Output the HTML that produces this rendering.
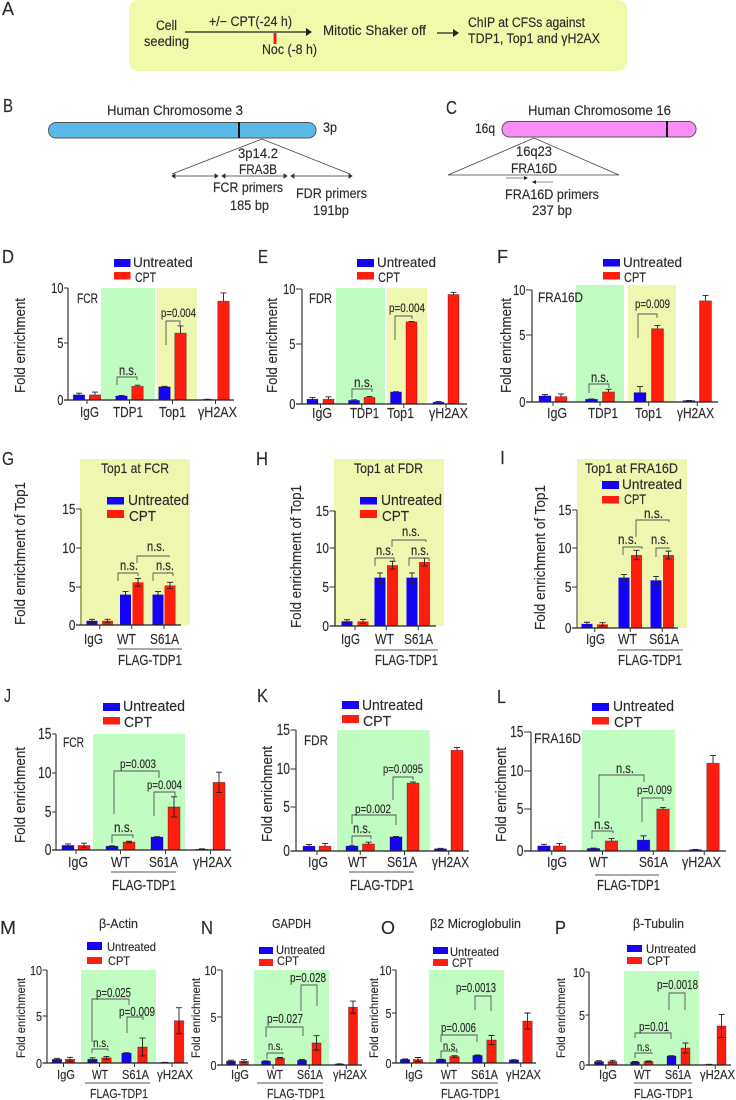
<!DOCTYPE html>
<html lang="en">
<head>
<meta charset="utf-8">
<title>ChIP enrichment at common fragile sites</title>
<style>
html,body{margin:0;padding:0;background:#fff;}
svg{display:block;}
text{font-family:"Liberation Sans",sans-serif;fill:#2b2b2b;stroke:#2b2b2b;stroke-width:0.15;}
</style>
</head>
<body>
<svg id="figure" xmlns="http://www.w3.org/2000/svg" width="736" height="1100" viewBox="0 0 736 1100">
  <g>
    <text x="2" y="15" font-size="18" textLength="12" lengthAdjust="spacingAndGlyphs">A</text>
    <rect x="129" y="0" width="498" height="71" rx="9" fill="#f1f9ab"/>
    <text x="156" y="30" font-size="13.5" textLength="21" lengthAdjust="spacingAndGlyphs">Cell</text>
    <text x="144" y="46" font-size="13.5" textLength="45" lengthAdjust="spacingAndGlyphs">seeding</text>
    <text x="209" y="26" font-size="13.5" textLength="83" lengthAdjust="spacingAndGlyphs">+/− CPT(-24 h)</text>
    <line x1="185" y1="32" x2="308" y2="32" stroke="#222" stroke-width="1.2"/>
    <polygon points="306,28 312,32 306,36" fill="#222"/>
    <rect x="273.5" y="33" width="3" height="11" fill="#ee1c25"/>
    <text x="262" y="54" font-size="13.5" textLength="55" lengthAdjust="spacingAndGlyphs">Noc (-8 h)</text>
    <text x="323" y="35" font-size="13.5" textLength="103" lengthAdjust="spacingAndGlyphs">Mitotic Shaker off</text>
    <line x1="437" y1="33" x2="456" y2="33" stroke="#222" stroke-width="1.2"/>
    <polygon points="453,29 459,33 453,37" fill="#222"/>
    <text x="468" y="27" font-size="13.5" textLength="117" lengthAdjust="spacingAndGlyphs">ChIP at CFSs against</text>
    <text x="468" y="43" font-size="13.5" textLength="132" lengthAdjust="spacingAndGlyphs">TDP1, Top1 and γH2AX</text>
  </g>
  <g>
    <text x="3" y="112" font-size="18" textLength="10" lengthAdjust="spacingAndGlyphs">B</text>
    <text x="107" y="115" font-size="13.5" textLength="136" lengthAdjust="spacingAndGlyphs">Human Chromosome 3</text>
    <rect x="48.5" y="122.5" width="267.5" height="15.5" rx="7.5" fill="#5ab9e6" stroke="#555" stroke-width="1"/>
    <rect x="238" y="122" width="2" height="16" fill="#111"/>
    <text x="323" y="132" font-size="13.5" textLength="14" lengthAdjust="spacingAndGlyphs">3p</text>
    <polyline points="172,174 262,139 350,174" fill="none" stroke="#444" stroke-width="0.8"/>
    <text x="238" y="158" font-size="13.5" textLength="40" lengthAdjust="spacingAndGlyphs" stroke-width="0.35">3p14.2</text>
    <text x="239" y="174" font-size="13.5" textLength="38" lengthAdjust="spacingAndGlyphs" stroke-width="0.35">FRA3B</text>
    <path d="M172 176H218M172 176l3-2v4zM218 176l-3-2v4z" fill="#222" stroke="#333" stroke-width="0.8"/>
    <path d="M222 176H287M222 176l3-2v4zM287 176l-3-2v4z" fill="#222" stroke="#333" stroke-width="0.8"/>
    <path d="M291 176H352M291 176l3-2v4zM352 176l-3-2v4z" fill="#222" stroke="#333" stroke-width="0.8"/>
    <text x="213" y="192" font-size="13.5" textLength="70" lengthAdjust="spacingAndGlyphs">FCR primers</text>
    <text x="230" y="210" font-size="13.5" textLength="39" lengthAdjust="spacingAndGlyphs">185 bp</text>
    <text x="296" y="198" font-size="13.5" textLength="71" lengthAdjust="spacingAndGlyphs">FDR primers</text>
    <text x="313" y="215" font-size="13.5" textLength="36" lengthAdjust="spacingAndGlyphs">191bp</text>
  </g>
  <g>
    <text x="446" y="114" font-size="18" textLength="11" lengthAdjust="spacingAndGlyphs">C</text>
    <text x="528" y="115" font-size="13.5" textLength="143" lengthAdjust="spacingAndGlyphs">Human Chromosome 16</text>
    <rect x="502" y="121.5" width="194" height="15.5" rx="7.5" fill="#fb8dfb" stroke="#555" stroke-width="1"/>
    <rect x="666" y="121" width="2" height="16" fill="#111"/>
    <text x="475" y="133" font-size="13.5" textLength="20" lengthAdjust="spacingAndGlyphs">16q</text>
    <polygon points="448,175 534,138 619,175" fill="none" stroke="#444" stroke-width="0.8"/>
    <text x="516" y="156" font-size="13.5" textLength="36" lengthAdjust="spacingAndGlyphs" stroke-width="0.35">16q23</text>
    <text x="511" y="173" font-size="13.5" textLength="46" lengthAdjust="spacingAndGlyphs" stroke-width="0.35">FRA16D</text>
    <path d="M506 178H527" stroke="#888" stroke-width="1"/>
    <polygon points="524,176 528,178 524,180" fill="#222"/>
    <path d="M532 182H553" stroke="#666" stroke-width="0.8"/>
    <polygon points="536,180 532,182 536,184" fill="#222"/>
    <text x="505" y="199" font-size="13.5" textLength="94" lengthAdjust="spacingAndGlyphs">FRA16D primers</text>
    <text x="532" y="215" font-size="13.5" textLength="40" lengthAdjust="spacingAndGlyphs">237 bp</text>
  </g>
</svg>
<script>
// ---------- chart data ----------
const dCategories = ['IgG', 'TDP1', 'Top1', 'γH2AX'];
const dUntreated = [0.45, 0.35, 1.15, 0.05];
const dCpt = [0.45, 1.2, 5.9, 8.8];
const dUntreatedErr = [0.15, 0.05, 0.05, 0.02];
const dCptErr = [0.25, 0.1, 0.65, 0.75];
const dTicks = [0, 5, 10];

const eCategories = ['IgG', 'TDP1', 'Top1', 'γH2AX'];
const eUntreated = [0.4, 0.3, 1.0, 0.15];
const eCpt = [0.4, 0.55, 7.0, 9.5];
const eUntreatedErr = [0.15, 0.05, 0.03, 0.05];
const eCptErr = [0.2, 0.08, 0.05, 0.2];
const eTicks = [0, 5, 10];

const fCategories = ['IgG', 'TDP1', 'Top1', 'γH2AX'];
const fUntreated = [0.45, 0.2, 0.7, 0.1];
const fCpt = [0.4, 0.75, 5.7, 8.8];
const fUntreatedErr = [0.1, 0.03, 0.45, 0.02];
const fCptErr = [0.2, 0.2, 0.35, 0.6];
const fTicks = [0, 5, 10];

const gCategories = ['IgG', 'WT', 'S61A'];
const gUntreated = [0.55, 4.0, 4.0];
const gCpt = [0.55, 5.6, 5.2];
const gUntreatedErr = [0.2, 0.4, 0.4];
const gCptErr = [0.2, 0.5, 0.4];
const gTicks = [0, 5, 10, 15];

const hCategories = ['IgG', 'WT', 'S61A'];
const hUntreated = [0.6, 6.2, 6.2];
const hCpt = [0.6, 7.8, 8.2];
const hUntreatedErr = [0.2, 0.6, 0.6];
const hCptErr = [0.25, 0.5, 0.5];
const hTicks = [0, 5, 10, 15];

const iCategories = ['IgG', 'WT', 'S61A'];
const iUntreated = [0.5, 6.2, 5.85];
const iCpt = [0.45, 9.1, 9.1];
const iUntreatedErr = [0.2, 0.4, 0.5];
const iCptErr = [0.2, 0.6, 0.5];
const iTicks = [0, 5, 10, 15];

const jCategories = ['IgG', 'WT', 'S61A', 'γH2AX'];
const jUntreated = [0.6, 0.5, 1.7, 0.1];
const jCpt = [0.6, 1.05, 5.65, 8.8];
const jUntreatedErr = [0.2, 0.05, 0.05, 0.05];
const jCptErr = [0.3, 0.1, 1.3, 1.3];
const jTicks = [0, 5, 10, 15];

const kCategories = ['IgG', 'WT', 'S61A', 'γH2AX'];
const kUntreated = [0.55, 0.55, 1.6, 0.25];
const kCpt = [0.55, 0.8, 8.15, 12.4];
const kUntreatedErr = [0.2, 0.05, 0.05, 0.05];
const kCptErr = [0.3, 0.2, 0.15, 0.35];
const kTicks = [0, 5, 10, 15];

const lCategories = ['IgG', 'WT', 'S61A', 'γH2AX'];
const lUntreated = [0.6, 0.3, 1.3, 0.15];
const lCpt = [0.6, 1.2, 5.0, 11.0];
const lUntreatedErr = [0.2, 0.05, 0.5, 0.03];
const lCptErr = [0.3, 0.3, 0.2, 1.0];
const lTicks = [0, 5, 10, 15];

const mCategories = ['IgG', 'WT', 'S61A', 'γH2AX'];
const mUntreated = [0.4, 0.4, 1.05, 0.05];
const mCpt = [0.4, 0.55, 1.7, 4.5];
const mUntreatedErr = [0.1, 0.15, 0.05, 0.02];
const mCptErr = [0.2, 0.15, 0.95, 1.4];
const mTicks = [0, 5, 10];

const nCategories = ['IgG', 'WT', 'S61A', 'γH2AX'];
const nUntreated = [0.4, 0.4, 0.5, 0.1];
const nCpt = [0.4, 0.7, 2.3, 6.05];
const nUntreatedErr = [0.1, 0.03, 0.08, 0.02];
const nCptErr = [0.15, 0.08, 0.75, 0.65];
const nTicks = [0, 5, 10];

const oCategories = ['IgG', 'WT', 'S61A', 'γH2AX'];
const oUntreated = [0.35, 0.35, 0.75, 0.3];
const oCpt = [0.35, 0.65, 2.3, 4.2];
const oUntreatedErr = [0.05, 0.03, 0.05, 0.03];
const oCptErr = [0.2, 0.08, 0.45, 0.8];
const oTicks = [0, 5, 10];

const pCategories = ['IgG', 'WT', 'S61A', 'γH2AX'];
const pUntreated = [0.35, 0.3, 0.9, 0.05];
const pCpt = [0.35, 0.35, 1.7, 3.9];
const pUntreatedErr = [0.08, 0.05, 0.03, 0.02];
const pCptErr = [0.12, 0.05, 0.5, 1.15];
const pTicks = [0, 5, 10];

// ---------- panel layout (axes, shading, annotations) ----------
const GREEN = '#c1fcc1', YELLOW = '#eef6b0';
const Y_LABEL = 'Fold enrichment', Y_TOP1 = 'Fold enrichment of Top1';
const panels = [
 {id:'d', letter:['D',2,14,263], cats:dCategories, u:dUntreated, c:dCpt, ue:dUntreatedErr, ce:dCptErr, ticks:dTicks,
  axisX:68, tickLen:4, tickPx:[400,343,288], xEnd:234, centers:[87,129.5,172.5,215.5], gaps:[16,16,16,16], barW:11.5, both:false, outline:true,
  shades:[[101,155,288,GREEN],[157,197,288,YELLOW]], ylab:[Y_LABEL,25,298,393,15], tickFont:[14.5,6.2], axisColor:'#444',
  legend:{sw:[114,16.5],u:[259,8],c:[272,7.5],ut:[133,192.7,267],ct:[135,156,282],size:14},
  tag:['FCR',77,98,303,13.5], catLab:[[80,99],[113,143],[159,186],[198,237]], catBase:417, catSize:15,
  notes:[{p:[117,385,377,137,380],t:'n.s.',x:[119,137],y:375,s:14},{p:[166,345,321,180,325],t:'p=0.004',x:[161,196],y:317,s:12}]},
 {id:'e', letter:['E',258,268,263], cats:eCategories, u:eUntreated, c:eCpt, ue:eUntreatedErr, ce:eCptErr, ticks:eTicks,
  axisX:302, tickLen:6, tickPx:[404,344,289], xEnd:467, centers:[320.5,361.75,403.75,446], gaps:[16,15.5,15.5,15], barW:11, both:false, outline:true,
  shades:[[336,385,288,GREEN],[387,427,288,YELLOW]], ylab:[Y_LABEL,277,298,393,15], tickFont:[14.5,6.2], axisColor:'#444',
  legend:{sw:[357,17],u:[259,8],c:[272,7.5],ut:[377,436,267],ct:[378,400,282],size:14},
  tag:['FDR',309,332,303,13.5], catLab:[[312,332],[350,379],[387,414],[429,468]], catBase:418, catSize:15,
  notes:[{p:[352,398,389,372,392],t:'n.s.',x:[354,373],y:387,s:14},{p:[395,340,316,412,319],t:'p=0.004',x:[389,425],y:312,s:12}]},
 {id:'f', letter:['F',497,508,263], cats:fCategories, u:fUntreated, c:fCpt, ue:fUntreatedErr, ce:fCptErr, ticks:fTicks,
  axisX:532, tickLen:6, tickPx:[402,335,290], xEnd:718, centers:[553,600,648.75,697.25], gaps:[16,17,17.5,16.5], barW:12, both:false, outline:true,
  shades:[[576,624,285,GREEN],[628,676,285,YELLOW]], ylab:[Y_LABEL,511,298,393,15], tickFont:[14.5,6.2], axisColor:'#444',
  legend:{sw:[603,17],u:[259,7.5],c:[272,7.5],ut:[623,682,267],ct:[624,646,282],size:14},
  tag:['FRA16D',538,583,302,13.5], catLab:[[547,567],[588,618],[635,662],[677,714]], catBase:418, catSize:15,
  notes:[{p:[589,393,384,609,388],t:'n.s.',x:[591,609],y:382,s:14},{p:[638,338,314,657,318],t:'p=0.009',x:[635,670],y:308,s:12}]},
 {id:'g', letter:['G',2,14,465], cats:gCategories, u:gUntreated, c:gCpt, ue:gUntreatedErr, ce:gCptErr, ticks:gTicks,
  axisX:81, tickLen:5, tickPx:[625,587,548,509], xEnd:181, centers:[99.75,131.75,164], gaps:[15.5,12.5,12], barW:11, both:true, outline:false,
  shades:[[80,190,459,YELLOW]], ylab:[Y_TOP1,25,482,625,15], tickFont:[15,6.6], axisColor:'#85854f',
  legend:{sw:[107,17],u:[497,7.5],c:[510,8],ut:[128,189,505],ct:[129,156,521],size:14.5},
  title:['Top1 at FCR',101,169,473,14], catLab:[[84,103],[117,136],[150,179]], catBase:644, catSize:15,
  flag:{line:[117,182,649],text:[118,182,665],s:14.5},
  notes:[{p:[118,581,573,138,576],t:'n.s.',x:[120,138],y:570,s:14},{p:[153,581,573,173,576],t:'n.s.',x:[156,174],y:570,s:14},{p:[137,563,556,169,557],t:'n.s.',x:[147,165],y:551,s:14}]},
 {id:'h', letter:['H',256,268,465], cats:hCategories, u:hUntreated, c:hCpt, ue:hUntreatedErr, ce:hCptErr, ticks:hTicks,
  axisX:335, tickLen:5.5, tickPx:[626,587,548,511], xEnd:436, centers:[355,386.25,418.25], gaps:[16,12.5,12.5], barW:11, both:true, outline:false,
  shades:[[334,444,459,YELLOW]], ylab:[Y_TOP1,301,485,628,15], tickFont:[15,6.6], axisColor:'#333',
  legend:{sw:[360,17],u:[497,7.5],c:[510,8],ut:[381,442,505],ct:[382,409,521],size:14.5},
  title:['Top1 at FDR',354,423,473,14], catLab:[[341,360],[375,394],[404,433]], catBase:644, catSize:15,
  flag:{line:[374,438,650],text:[375,438,665],s:14.5},
  notes:[{p:[375,566,558,394,561],t:'n.s.',x:[376,394],y:555,s:14},{p:[409,566,558,429,561],t:'n.s.',x:[411,429],y:555,s:14},{p:[392,547,540,426,542],t:'n.s.',x:[402,420],y:536,s:14}]},
 {id:'i', letter:['I',500,505,464], cats:iCategories, u:iUntreated, c:iCpt, ue:iUntreatedErr, ce:iCptErr, ticks:iTicks,
  axisX:577, tickLen:5, tickPx:[628,587,548,510], xEnd:678, centers:[594.75,630.25,662.25], gaps:[15.5,12.5,12.5], barW:11, both:true, outline:false,
  shades:[[577,687,459,YELLOW]], ylab:[Y_TOP1,545,485,630,15], tickFont:[15,6.6], axisColor:'#666',
  legend:{sw:[602,17],u:[481,8],c:[496,7.5],ut:[622,682,489],ct:[624,646,504],size:14},
  title:['Top1 at FRA16D',585,678,473,14], catLab:[[586,605],[618,637],[649,679]], catBase:644, catSize:15,
  flag:{line:[617,683,650],text:[618,682,665],s:14.5},
  notes:[{p:[623,555,547,642,549],t:'n.s.',x:[618,637],y:544,s:14},{p:[656,557,548,669,549],t:'n.s.',x:[651,669],y:544,s:14},{p:[636,537,520,669,522],t:'n.s.',x:[644,663],y:518,s:14}]},
 {id:'j', letter:['J',4,11,702], cats:jCategories, u:jUntreated, c:jCpt, ue:jUntreatedErr, ce:jCptErr, ticks:jTicks,
  axisX:56, tickLen:4, tickPx:[850,812,773,734], xEnd:231, centers:[76,120.5,165.5,210.5], gaps:[16,17,17,17], barW:12, both:true, outline:true,
  shades:[[93,185,734,GREEN]], ylab:[Y_LABEL,25,747,843,15], tickFont:[16,6.7], axisColor:'#444',
  legend:{sw:[103,17],u:[703,8],c:[717,7.5],ut:[123,185,711],ct:[124,152,727],size:14.5},
  tag:['FCR',63,84,747,13.5], catLab:[[68,88],[111,130],[149,178],[193,232]], catBase:867, catSize:15,
  flag:{line:[111,176,872],text:[112,176,890],s:14.5},
  notes:[{p:[112,843,835,133,838],t:'n.s.',x:[114,133],y:832,s:14},{p:[114,814,771,159,778],t:'p=0.003',x:[120,156],y:768,s:12},{p:[154,816,792,175,797],t:'p=0.004',x:[147,182],y:789,s:12}]},
 {id:'k', letter:['K',257,268,702], cats:kCategories, u:kUntreated, c:kCpt, ue:kUntreatedErr, ce:kCptErr, ticks:kTicks,
  axisX:296, tickLen:5.5, tickPx:[851,807,769,730], xEnd:469, centers:[317,360.25,404.5,448.75], gaps:[16,16.5,17,16.5], barW:12, both:false, outline:true,
  shades:[[337,430,730,GREEN]], ylab:[Y_LABEL,272,746,842,15], tickFont:[16,6.7], axisColor:'#444',
  legend:{sw:[342,17],u:[701,8],c:[715,8],ut:[362,423,710],ct:[363,391,726],size:14.5},
  tag:['FDR',304,328,745,13.5], catLab:[[308,328],[348,367],[387,417],[432,469]], catBase:867, catSize:15,
  flag:{line:[349,414,872],text:[350,414,890],s:14.5},
  notes:[{p:[352,845,836,371,839],t:'n.s.',x:[353,371],y:833,s:14},{p:[352,824,815,396,825],t:'p=0.002',x:[355,391],y:813,s:12},{p:[393,800,777,413,780],t:'p=0.0095',x:[383,423],y:773,s:12}]},
 {id:'l', letter:['L',497,506,703], cats:lCategories, u:lUntreated, c:lCpt, ue:lUntreatedErr, ce:lCptErr, ticks:lTicks,
  axisX:531, tickLen:7, tickPx:[851,809,771,732], xEnd:726, centers:[551.75,602.5,653.25,704.25], gaps:[15.5,18,19.5,17.5], barW:12.5, both:false, outline:true,
  shades:[[582,675,730,GREEN]], ylab:[Y_LABEL,506,747,842,15], tickFont:[16,6.7], axisColor:'#444',
  legend:{sw:[592,17],u:[703,8],c:[717,7.5],ut:[613,674,711],ct:[614,642,727],size:14.5},
  tag:['FRA16D',534,581,743,13.5], catLab:[[547,567],[589,608],[639,668],[682,721]], catBase:867, catSize:15,
  flag:{line:[595,659,875],text:[597,660,890],s:14.5},
  notes:[{p:[592,839,831,613,833],t:'n.s.',x:[594,613],y:829,s:14},{p:[642,822,798,663,801],t:'p=0.009',x:[637,672],y:794,s:12},{p:[599,818,775,644,782],t:'n.s.',x:[616,634],y:773,s:14}]},
 {id:'m', letter:['M',0,16,934], cats:mCategories, u:mUntreated, c:mCpt, ue:mUntreatedErr, ce:mCptErr, ticks:mTicks,
  axisX:47, tickLen:4.5, tickPx:[1063,1016,970], xEnd:188, centers:[63.5,99.5,134.5,172], gaps:[13,14,16,14], barW:9.5, both:true, outline:true,
  shades:[[81,156,970,GREEN]], ylab:[Y_LABEL,25,978,1058,12], tickFont:[13,6], axisColor:'#444',
  legend:{sw:[87,15],u:[942,8],c:[957,7],ut:[107,156,951],ct:[108,130,965],size:12},
  title:['β-Actin',99,138,928,12.5], catLab:[[57,75],[92,108],[122,149],[157,193]], catBase:1079, catSize:13,
  flag:{line:[85,150,1083],text:[90,148,1098],s:13},
  notes:[{p:[92,1053,1049,108,1051],t:'n.s.',x:[93,109],y:1047,s:12},{p:[92,1042,999,129,1005],t:'p=0.025',x:[96,131],y:997,s:12.5},{p:[127,1033,1017,143,1020],t:'p=0.009',x:[119,155],y:1016,s:12.5}]},
 {id:'n', letter:['N',201,213,934], cats:nCategories, u:nUntreated, c:nCpt, ue:nUntreatedErr, ce:nCptErr, ticks:nTicks,
  axisX:222, tickLen:5, tickPx:[1065,1017,970], xEnd:362, centers:[237.5,273,309.25,346.25], gaps:[13,14,14.5,13.5], barW:9, both:true, outline:true,
  shades:[[254,329,970,GREEN]], ylab:[Y_LABEL,200,978,1058,12], tickFont:[13,6], axisColor:'#444',
  legend:{sw:[259,14],u:[947,7],c:[959,7],ut:[276,325,954],ct:[277,299,965],size:12},
  title:['GAPDH',272,311,928,12.5], catLab:[[231,249],[267,283],[297,323],[333,367]], catBase:1079, catSize:13,
  flag:{line:[257,323,1083],text:[267,325,1098],s:13},
  notes:[{p:[267,1059,1053,283,1054],t:'n.s.',x:[268,283],y:1050,s:12},{p:[266,1037,1027,303,1036],t:'p=0.027',x:[267,303],y:1023,s:12.5},{p:[301,1011,985,317,1006],t:'p=0.028',x:[290,326],y:982,s:12.5}]},
 {id:'o', letter:['O',381,395,934], cats:oCategories, u:oUntreated, c:oCpt, ue:oUntreatedErr, ce:oCptErr, ticks:oTicks,
  axisX:396, tickLen:4, tickPx:[1063,1013,970], xEnd:536, centers:[411.5,447.75,484.5,520.75], gaps:[13,13.5,14,13.5], barW:9.5, both:true, outline:true,
  shades:[[429,504,970,GREEN]], ylab:[Y_LABEL,378,978,1058,12], tickFont:[13,6], axisColor:'#444',
  legend:{sw:[433,15],u:[947,7],c:[959,7],ut:[450,499,956],ct:[452,473,967],size:12},
  title:['β2 Microglobulin',430,521,928,12.5], catLab:[[405,423],[441,457],[471,498],[506,541]], catBase:1079, catSize:13,
  flag:{line:[440,498,1083],text:[441,500,1098],s:13},
  notes:[{p:[441,1058,1051,457,1053],t:'n.s.',x:[443,458],y:1050,s:12},{p:[441,1042,1035,477,1042],t:'p=0.006',x:[441,476],y:1032,s:12.5},{p:[475,1010,996,491,1011],t:'p=0.0013',x:[456,496],y:992,s:12.5}]},
 {id:'p', letter:['P',555,566,934], cats:pCategories, u:pUntreated, c:pCpt, ue:pUntreatedErr, ce:pCptErr, ticks:pTicks,
  axisX:589, tickLen:3.5, tickPx:[1065,1015,972], xEnd:731, centers:[605.75,641.75,678.5,715.25], gaps:[13.5,13.5,14,12.5], barW:9, both:true, outline:true,
  shades:[[624,699,971,GREEN]], ylab:[Y_LABEL,565,978,1058,12], tickFont:[13,6], axisColor:'#444',
  legend:{sw:[627,15],u:[945,7],c:[957,7],ut:[646,696,953],ct:[647,670,965],size:12},
  title:['β-Tubulin',633,684,928,12.5], catLab:[[599,617],[634,651],[665,691],[700,735]], catBase:1079, catSize:13,
  flag:{line:[634,692,1083],text:[634,693,1098],s:13},
  notes:[{p:[635,1058,1053,652,1054],t:'n.s.',x:[637,652],y:1051,s:12},{p:[635,1038,1033,671,1039],t:'p=0.01',x:[639,669],y:1031,s:12.5},{p:[669,1010,993,685,1010],t:'p=0.0018',x:[657,698],y:989,s:12.5}]}
];

// ---------- drawing ----------
const NS = 'http://www.w3.org/2000/svg';
const root = document.getElementById('figure');

function mk(parent, tag, name, attrs) {
  const el = document.createElementNS(NS, tag);
  
  
  for (const key in attrs) el.setAttribute(key, attrs[key]);
  parent.appendChild(el);
  return el;
}
function label(parent, name, str, x1, x2, base, size) {
  const el = mk(parent, 'text', name, {x: x1, y: base, 'font-size': size, textLength: x2 - x1, lengthAdjust: 'spacingAndGlyphs'});
  el.textContent = str;
  return el;
}
function slug(s) { return s.toLowerCase().replace(/[^a-z0-9]+/g, '-').replace(/^-|-$/g, '') || 'gamma'; }

// piecewise y axis through the tick marks
function yScale(p) {
  return function (v) {
    const t = p.ticks, px = p.tickPx;
    let i = 0;
    while (i < t.length - 2 && v > t[i + 1]) i++;
    return px[i] + (v - t[i]) / (t[i + 1] - t[i]) * (px[i + 1] - px[i]);
  };
}
function bandX(p, i, series) {
  return p.centers[i] + (series === 0 ? -1 : 1) * p.gaps[i] / 2;
}

function drawBar(g, p, y, i, series, val, err) {
  const cls = series === 0 ? 'untreated' : 'cpt';
  const color = series === 0 ? '#1403f4' : '#ff1d0d';
  const cx = bandX(p, i, series);
  const y0 = p.tickPx[0];
  const top = y(val);
  const catName = slug(p.cats[i].replace('γ', 'gamma-'));
  const attrs = {x: cx - p.barW / 2, y: top, width: p.barW, height: Math.max(y0 - top, 0.5), fill: color};
  if (p.outline) {
    attrs.stroke = 'rgba(30,10,40,0.45)';
    attrs['stroke-width'] = 0.7;
  }
  mk(g, 'rect', 'bar-' + p.id + '-' + catName + '-' + cls, attrs);
  const hi = y(val + err);
  const lo = p.both ? y(Math.max(val - err, 0)) : top;
  mk(g, 'path', 'error-bar-' + p.id + '-' + catName + '-' + cls, {
    d: 'M' + cx + ' ' + lo + 'V' + hi + 'M' + (cx - 3) + ' ' + hi + 'H' + (cx + 3) +
       (p.both ? 'M' + (cx - 3) + ' ' + lo + 'H' + (cx + 3) : ''),
    stroke: '#222', 'stroke-width': 0.9, fill: 'none'
  });
}

panels.forEach(function (p) {
  const g = mk(root, 'g', 'panel-' + p.id, {});
  const y = yScale(p);
  const y0 = p.tickPx[0];

  label(g, 'panel-letter-' + p.id, p.letter[0], p.letter[1], p.letter[2], p.letter[3], 18);

  p.shades.forEach(function (s, n) {
    mk(g, 'rect', (s[3] === GREEN ? 'green-' : 'yellow-') + 'highlight-' + p.id + '-' + n, {
      x: s[0], y: s[2], width: s[1] - s[0], height: y0 - s[2], fill: s[3]
    });
  });

  // y axis
  mk(g, 'line', 'y-axis-' + p.id, {x1: p.axisX, x2: p.axisX, y1: p.tickPx[p.tickPx.length - 1], y2: y0, stroke: p.axisColor, 'stroke-width': 1.3});
  p.ticks.forEach(function (t) {
    const ty = y(t);
    mk(g, 'line', 'y-tick-' + p.id + '-' + t, {x1: p.axisX - p.tickLen, x2: p.axisX, y1: ty, y2: ty, stroke: '#333', 'stroke-width': 1});
    const w = String(t).length * p.tickFont[1];
    const right = p.axisX - p.tickLen - 0.5;
    label(g, 'y-tick-label-' + p.id + '-' + t, String(t), right - w, right, ty + 5, p.tickFont[0]);
  });
  const yl = p.ylab;
  const yt = mk(g, 'text', 'y-axis-title-' + p.id, {
    transform: 'translate(' + yl[1] + ',' + yl[3] + ') rotate(-90)',
    'font-size': yl[4], textLength: yl[3] - yl[2], lengthAdjust: 'spacingAndGlyphs'
  });
  yt.textContent = yl[0];

  // bars and errors
  p.cats.forEach(function (c, i) {
    drawBar(g, p, y, i, 0, p.u[i], p.ue[i]);
    drawBar(g, p, y, i, 1, p.c[i], p.ce[i]);
  });

  // x axis
  mk(g, 'line', 'x-axis-' + p.id, {x1: p.axisX - p.tickLen, x2: p.xEnd, y1: y0, y2: y0, stroke: '#222', 'stroke-width': 1.2});
  p.cats.forEach(function (c, i) {
    const catName = slug(c.replace('γ', 'gamma-'));
    mk(g, 'line', 'x-tick-' + p.id + '-' + catName, {x1: p.centers[i], x2: p.centers[i], y1: y0, y2: y0 + 4, stroke: '#333', 'stroke-width': 1});
    const cl = p.catLab[i];
    label(g, 'x-tick-label-' + p.id + '-' + catName, c, cl[0], cl[1], p.catBase, p.catSize);
  });

  // legend
  const L = p.legend;
  mk(g, 'rect', 'legend-swatch-untreated-' + p.id, {x: L.sw[0], y: L.u[0], width: L.sw[1], height: L.u[1], fill: '#1403f4'});
  label(g, 'legend-label-untreated-' + p.id, 'Untreated', L.ut[0], L.ut[1], L.ut[2], L.size);
  mk(g, 'rect', 'legend-swatch-cpt-' + p.id, {x: L.sw[0], y: L.c[0], width: L.sw[1], height: L.c[1], fill: '#ff1d0d'});
  label(g, 'legend-label-cpt-' + p.id, 'CPT', L.ct[0], L.ct[1], L.ct[2], L.size);

  if (p.tag) label(g, 'site-label-' + p.id, p.tag[0], p.tag[1], p.tag[2], p.tag[3], p.tag[4]);
  if (p.title) label(g, 'chart-title-' + p.id, p.title[0], p.title[1], p.title[2], p.title[3], p.title[4]);

  if (p.flag) {
    mk(g, 'line', 'flag-tdp1-underline-' + p.id, {x1: p.flag.line[0], x2: p.flag.line[1], y1: p.flag.line[2], y2: p.flag.line[2], stroke: '#555', 'stroke-width': 1});
    label(g, 'flag-tdp1-label-' + p.id, 'FLAG-TDP1', p.flag.text[0], p.flag.text[1], p.flag.text[2], p.flag.s);
  }

  // significance brackets
  p.notes.forEach(function (n, k) {
    const b = n.p;
    mk(g, 'path', 'significance-bracket-' + p.id + '-' + k, {
      d: 'M' + b[0] + ' ' + b[1] + 'V' + b[2] + 'H' + b[3] + 'V' + b[4],
      fill: 'none', stroke: '#555', 'stroke-width': 0.9
    });
    label(g, 'significance-label-' + p.id + '-' + k, n.t, n.x[0], n.x[1], n.y, n.s);
  });
});
</script>
</body>
</html>
